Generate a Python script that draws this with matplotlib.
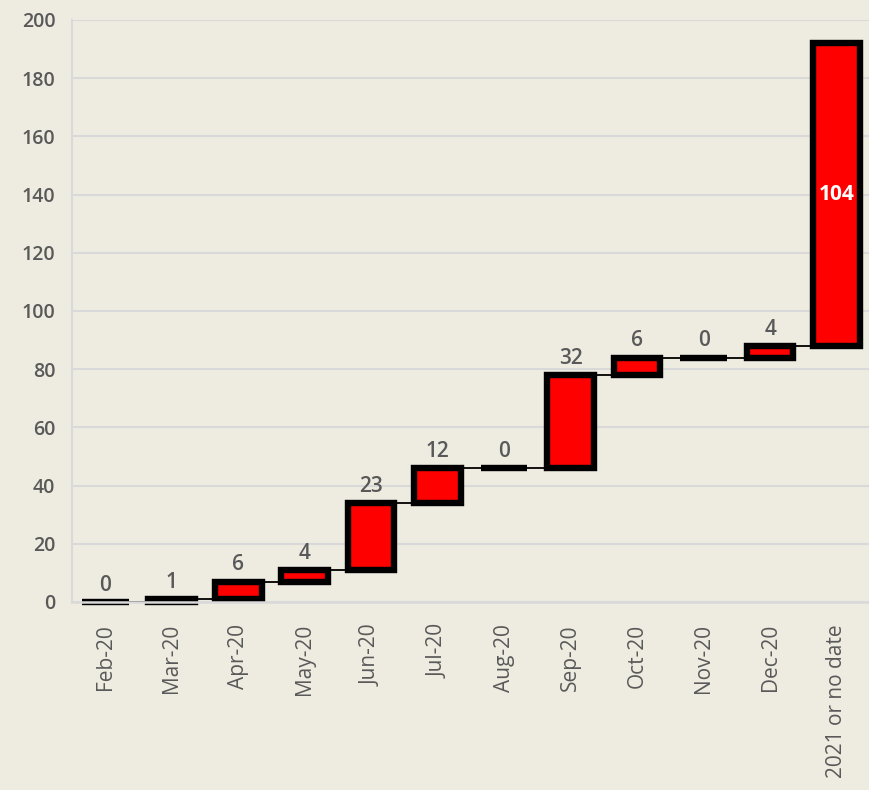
import matplotlib
matplotlib.use("Agg")
import matplotlib.pyplot as plt
import numpy as np

categories = ["Feb-20", "Mar-20", "Apr-20", "May-20", "Jun-20", "Jul-20", "Aug-20",
              "Sep-20", "Oct-20", "Nov-20", "Dec-20", "2021 or no date"]
values = [0, 1, 6, 4, 23, 12, 0, 32, 6, 0, 4, 104]
y_ticks = [0, 20, 40, 60, 80, 100, 120, 140, 160, 180, 200]

plt.rcParams['font.family'] = ['Open Sans', 'DejaVu Sans']

bg = "#EEEBE0"
fig = plt.figure(figsize=(8.7, 7.9), dpi=100, facecolor=bg)
ax = fig.add_axes([0.0828, 0.238, 0.917, 0.7367], facecolor=bg)

x = np.arange(len(values))
cum = np.cumsum(values)
bottoms = cum - np.array(values)
width = 0.70

bars = ax.bar(x, values, bottom=bottoms, width=width, color="#FF0000", edgecolor="black",
              linewidth=4.6, zorder=3)
for b in bars:
    b.set_clip_on(False)

# connectors
for i in range(len(values) - 1):
    ax.plot([x[i] + width / 2, x[i + 1] - width / 2], [cum[i], cum[i]],
            color="black", linewidth=1.3, zorder=2)

# labels
for i, v in enumerate(values):
    if i == len(values) - 1:
        ax.text(x[i], bottoms[i] + v / 2, str(v), ha="center", va="center",
                color="white", fontsize=15, fontweight="bold", zorder=5)
    else:
        ax.text(x[i], cum[i] + 2.2, str(v), ha="center", va="bottom",
                color="#595959", fontsize=15, fontweight="semibold", zorder=5)

ax.set_xlim(-0.5, len(values) - 0.5)
ax.set_ylim(0, 200)
ax.set_yticks(y_ticks)
ax.set_xticks(x)
ax.set_xticklabels(categories, rotation=90, color="#595959", fontsize=15)
for lbl in ax.get_yticklabels():
    lbl.set_fontweight("semibold")
ax.tick_params(axis="y", colors="#595959", labelsize=14, length=0, pad=12)
ax.tick_params(axis="x", length=0, pad=16)
ax.grid(axis="y", color="#D9D9D9", linewidth=1.5, zorder=0)
ax.set_axisbelow(True)
for s in ["top", "right"]:
    ax.spines[s].set_visible(False)
ax.spines["left"].set_color("#D9D9D9")
ax.spines["left"].set_linewidth(1.5)
ax.spines["bottom"].set_color("#D9D9D9")
ax.spines["bottom"].set_linewidth(1.8)
ax.spines["bottom"].set_zorder(4)

fig.savefig("out.png", dpi=100, facecolor=bg)
